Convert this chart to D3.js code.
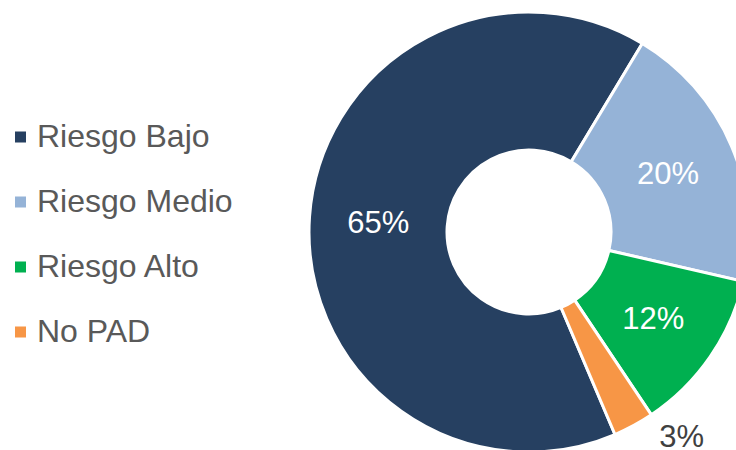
<!DOCTYPE html>
<html>
<head>
<meta charset="utf-8">
<script src="https://cdn.jsdelivr.net/npm/d3@7"></script>
<style>
  body { margin: 0; background: #fff; }
  svg { display: block; font-family: "Liberation Sans", Arial, sans-serif; }
</style>
</head>
<body>
<div id="chart"></div>
<script>
const categories = ['Riesgo Bajo', 'Riesgo Medio', 'Riesgo Alto', 'No PAD'];
const values = [65, 20, 12, 3];
const colors = ['#264061', '#95B3D7', '#00B050', '#F79646'];

const width = 736, height = 450;
const cx = 529, cy = 232;
const outerR = 220, innerR = 82;

const svg = d3.select('#chart')
  .append('svg')
  .attr('width', width)
  .attr('height', height);

const data = categories.map((c, i) => ({ name: c, value: values[i], color: colors[i] }));
const total = d3.sum(values);

const start = 157 * Math.PI / 180;
const pie = d3.pie()
  .sort(null)
  .value(d => d.value)
  .startAngle(start)
  .endAngle(start + 2 * Math.PI);

const arc = d3.arc().innerRadius(innerR).outerRadius(outerR);
const outArc = d3.arc().innerRadius(256).outerRadius(256);

const g = svg.append('g')
  .attr('transform', 'translate(' + cx + ',' + cy + ')');

const arcs = pie(data);

g.selectAll('path')
  .data(arcs)
  .enter()
  .append('path')
  .attr('d', arc)
  .attr('fill', d => d.data.color)
  .attr('stroke', '#fff')
  .attr('stroke-width', 3)
  .attr('stroke-linejoin', 'round');

// Percent labels: inside the ring, except the small slice which sits outside
g.selectAll('text.label')
  .data(arcs)
  .enter()
  .append('text')
  .attr('class', 'label')
  .attr('transform', d => {
    if (d.data.value < 5) {
      const p = outArc.centroid(d);
      return 'translate(' + (p[0] + 31) + ',' + (p[1] - 21) + ')';
    }
    return 'translate(' + arc.centroid(d) + ')';
  })
  .attr('text-anchor', 'middle')
  .attr('dy', '0.36em')
  .attr('font-size', 31)
  .attr('fill', d => d.data.value < 5 ? '#404040' : '#fff')
  .text(d => Math.round(d.data.value / total * 100) + '%');

// Legend
const legend = svg.append('g')
  .attr('transform', 'translate(15,137)');

const item = legend.selectAll('g')
  .data(data)
  .enter()
  .append('g')
  .attr('transform', (d, i) => 'translate(0,' + i * 65 + ')');

item.append('rect')
  .attr('x', 0)
  .attr('y', -5.5)
  .attr('width', 11)
  .attr('height', 11)
  .attr('fill', d => d.color);

item.append('text')
  .attr('x', 22)
  .attr('y', 10)
  .attr('font-size', 32)
  .attr('fill', '#595959')
  .text(d => d.name);
</script>
</body>
</html>
